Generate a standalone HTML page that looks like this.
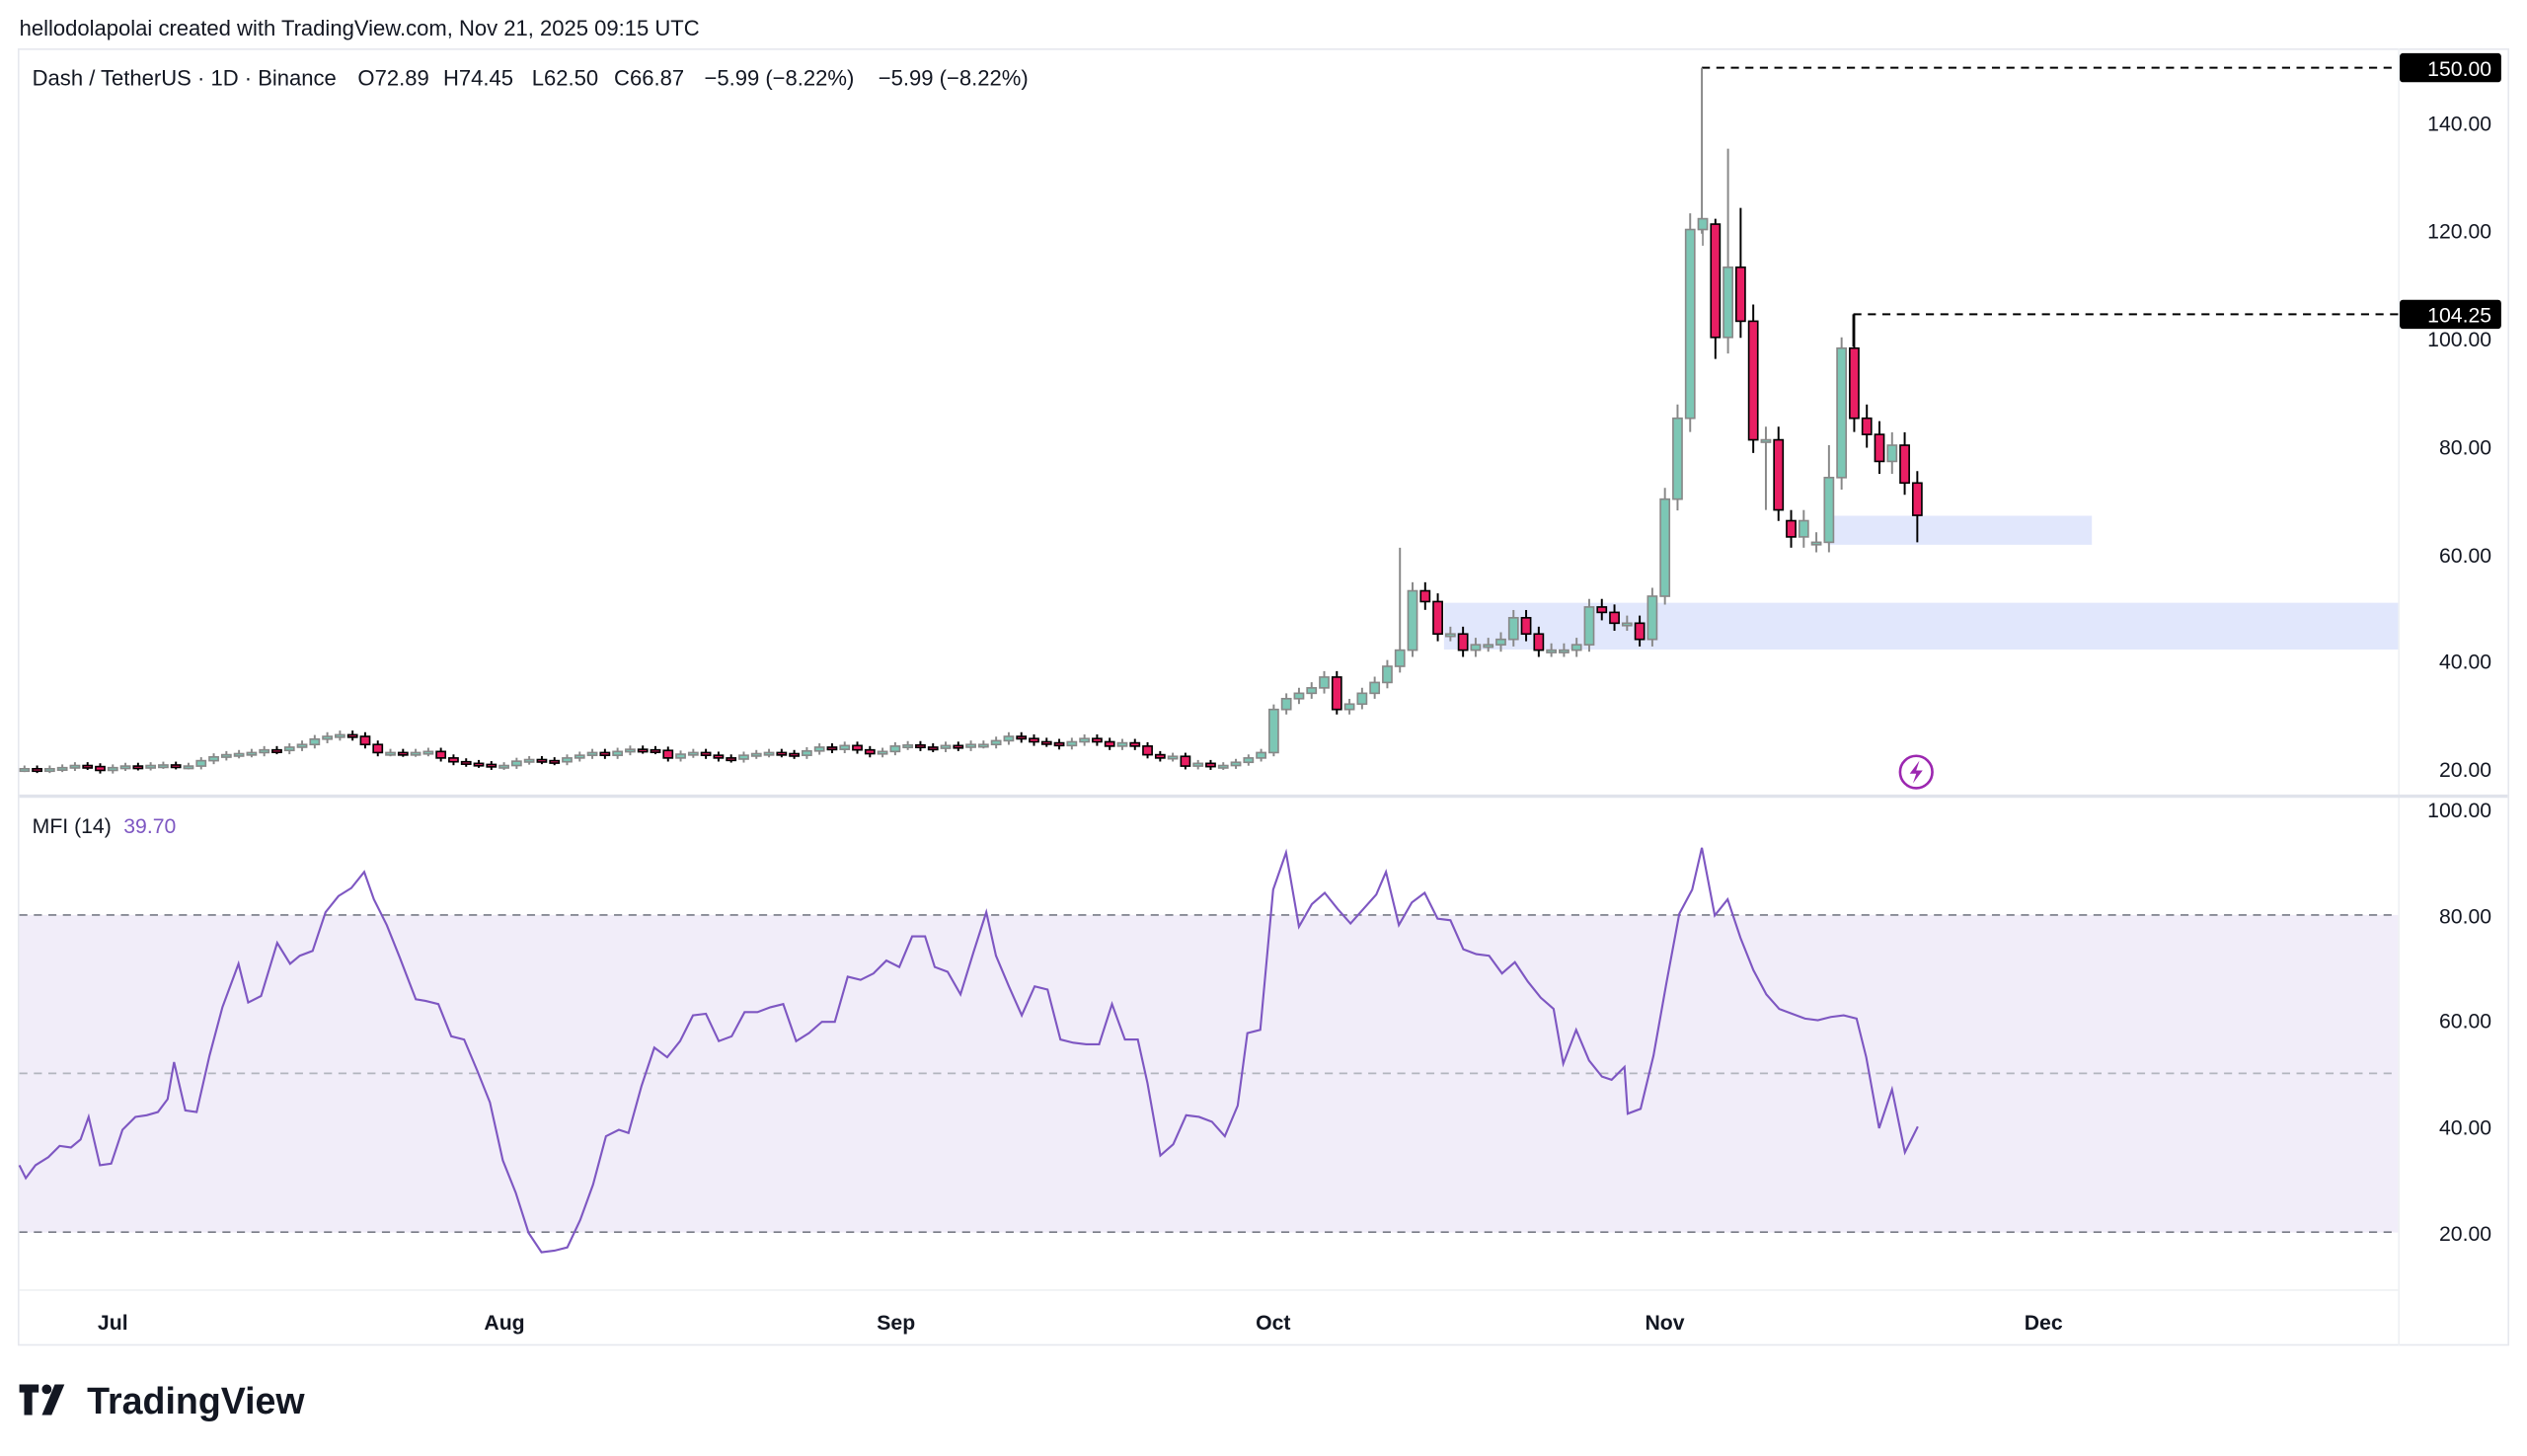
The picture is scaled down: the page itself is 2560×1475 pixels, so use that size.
<!DOCTYPE html>
<html><head><meta charset="utf-8"><style>
html,body{margin:0;padding:0;background:#fff;width:2560px;height:1475px;overflow:hidden}
svg{display:block}
text{font-family:"Liberation Sans",sans-serif}
</style></head><body>
<svg id="s" width="2560" height="1475" viewBox="0 0 1568 903.4" xmlns="http://www.w3.org/2000/svg">
<defs><clipPath id="cp"><rect x="12" y="30" width="1476" height="464"/></clipPath></defs>
<rect width="1568" height="904" fill="#fff"/>
<text x="12" y="22" font-size="13.5" fill="#131722">hellodolapolai created with TradingView.com, Nov 21, 2025 09:15 UTC</text>
<rect x="11.5" y="30.5" width="1545" height="804" fill="none" stroke="#e6e8ee" stroke-width="1"/>
<line x1="1488.5" y1="30" x2="1488.5" y2="835" stroke="#eef0f3"/>
<line x1="12" y1="494" x2="1556" y2="494" stroke="#e0e3eb" stroke-width="2"/>
<line x1="12" y1="800.5" x2="1488" y2="800.5" stroke="#eef0f3"/>
<g font-size="13.5" fill="#131722">
<text x="20" y="53">Dash / TetherUS · 1D · Binance</text>
<text x="222" y="53">O72.89</text><text x="275" y="53">H74.45</text><text x="330" y="53">L62.50</text><text x="381" y="53">C66.87</text>
<text x="437" y="53">−5.99 (−8.22%)</text><text x="545" y="53">−5.99 (−8.22%)</text>
</g>
<!-- zones -->
<rect x="896" y="374" width="592" height="29" fill="#e1e7fc"/>
<rect x="1134" y="320" width="164" height="18" fill="#e1e7fc"/>
<!-- dashed -->
<polyline points="1056,42 1488,42" fill="none" stroke="#000" stroke-width="1.2" stroke-dasharray="5,4"/>
<polyline points="1150,195 1488,195" fill="none" stroke="#000" stroke-width="1.2" stroke-dasharray="5,4"/>
<line x1="1056" y1="42" x2="1056" y2="145" stroke="#888" stroke-width="1.2"/>
<line x1="1150" y1="195" x2="1150" y2="215" stroke="#000" stroke-width="1.2"/>
<g id="candles" clip-path="url(#cp)"></g>
<!-- price axis -->
<g font-size="13" fill="#131722" text-anchor="end">
<text x="1546" y="81">140.00</text><text x="1546" y="148">120.00</text><text x="1546" y="215">100.00</text>
<text x="1546" y="282">80.00</text><text x="1546" y="349">60.00</text><text x="1546" y="415">40.00</text><text x="1546" y="482">20.00</text>
<text x="1546" y="507">100.00</text><text x="1546" y="573">80.00</text><text x="1546" y="638">60.00</text><text x="1546" y="704">40.00</text><text x="1546" y="770">20.00</text>
</g>
<rect x="1489" y="33" width="63" height="18" rx="2" fill="#000"/>
<text x="1546" y="47" font-size="13" fill="#fff" text-anchor="end">150.00</text>
<rect x="1489" y="186" width="63" height="18" rx="2" fill="#000"/>
<text x="1546" y="200" font-size="13" fill="#fff" text-anchor="end">104.25</text>
<!-- icon -->
<circle cx="1189" cy="479" r="10" fill="#fff" stroke="#9c27b0" stroke-width="1.6"/>
<path d="M1191,472 L1185,480 L1189,480 L1187,486 L1193,478 L1189,478 Z" fill="#9c27b0"/>
<!-- MFI -->
<rect x="12" y="567.75" width="1476" height="197" fill="#f1edf9"/>
<line x1="12" y1="567.75" x2="1488" y2="567.75" stroke="#787b86" stroke-dasharray="5,4"/>
<line x1="12" y1="666" x2="1488" y2="666" stroke="#b2b5be" stroke-dasharray="5,4"/>
<line x1="12" y1="764.5" x2="1488" y2="764.5" stroke="#787b86" stroke-dasharray="5,4"/>
<text x="20" y="517" font-size="13" fill="#131722">MFI (14) <tspan fill="#7e57c2" dx="4">39.70</tspan></text>
<polyline fill="none" stroke="#7e57c2" stroke-width="1.3" points="12,723 16,731 22,723 30,718 37,711 44,712 50,707 55,693 62,723 69,722 76,701 84,693 91,692 98,690 104,682 108,659 115,689 122,690 130,655 138,625 148,598 154,622 162,618 172,585 180,598 186,593 194,590 202,566 210,556 218,551 226,541 232,558 240,574 248,594 258,620 264,621 272,623 280,643 288,645 296,664 304,684 312,720 320,740 328,765 336,777 344,776 352,774 360,757 368,735 376,705 384,701 390,703 398,674 406,650 414,656 422,646 430,630 438,629 446,646 454,643 462,628 470,628 478,625 486,623 494,646 502,641 510,634 518,634 526,606 534,608 542,604 550,596 558,600 566,581 574,581 580,600 588,603 596,617 604,591 612,566 618,593 626,612 634,630 642,612 650,614 658,645 666,647 674,648 682,648 690,623 698,645 706,645 712,672 720,717 728,710 736,692 744,693 752,696 760,705 768,686 774,641 782,639 790,552 798,529 806,575 814,561 822,554 830,564 838,573 846,564 854,555 860,541 868,574 876,560 884,554 892,570 900,571 908,589 916,592 924,593 932,604 940,597 948,609 956,619 964,626 970,660 978,639 986,658 994,668 1000,670 1008,662 1010,691 1018,688 1026,655 1034,610 1042,567 1050,552 1056,526 1064,568 1072,558 1080,582 1088,602 1096,617 1104,626 1112,629 1120,632 1128,633 1136,631 1144,630 1152,632 1158,656 1166,700 1174,676 1182,715 1190,699"/>
<!-- time axis -->
<g font-size="13" fill="#131722" text-anchor="middle" font-weight="bold">
<text x="70" y="825">Jul</text><text x="313" y="825">Aug</text><text x="556" y="825">Sep</text>
<text x="790" y="825">Oct</text><text x="1033" y="825">Nov</text><text x="1268" y="825">Dec</text>
</g>
<!-- logo -->
<g fill="#131722">
<path d="M12,859 h12 v5 h-4 v14 h-5 v-14 h-3 z"/>
<circle cx="29" cy="862" r="3"/>
<path d="M34,859 h6 l-8,19 h-6 z"/>
<text x="54" y="877" font-size="23" font-weight="bold">TradingView</text>
</g>
</svg>
<script>
var closes=[20,20,19.8,20,20.2,20.6,20.4,19.7,
20.2,20.5,20.3,20.6,20.7,20.5,20.5,21.5,22.2,22.6,22.8,23,23.5,23.4,24,24.5,25.5,26,26.3,26,24.5,23,23,22.9,23,23.2,22,21.3,21,20.8,20.4,
20.6,21.4,21.7,21.5,21.3,22,22.5,23,22.5,23.2,23.6,23.5,23.4,22,22.7,23,22.5,22,21.8,22.5,22.8,23,22.8,22.5,23.3,24,23.6,24.3,23.5,22.8,23.2,
24.2,24.4,24,23.8,24.3,24,24.5,24.5,25.2,26,25.6,25,24.8,24.3,25,25.6,25,24.2,24.8,24.2,22.6,22,22.3,20.5,21,20.4,20.6,21.2,22,23,
31,33,34,35,37,31,32,34,36,39,42,53,51,45,45,42,43,43,44,48,45,42,42,42,43,50,49,47,47,44,52,
70,85,120,122,100,113,103,81,81,68,63,66,62,74,98,85,82,77,80,73,67];
var hi={110:61,134:150,136:135,137:124,133:123,146:104.25,144:80,145:100,135:122};
var lo={151:62,139:68,141:61,142:61,135:96};
var opens={135:121,141:66,143:62,151:73};
function Y(p){return 477-(p-20)*3.346;}
var g=document.getElementById('candles'),h='';
for(var i=0;i<closes.length;i++){
 var c=closes[i],o=opens[i]!==undefined?opens[i]:(i?closes[i-1]:20.2);
 var x=70+(i-8)*7.83;
 var up=c>=o,mx=Math.max(o,c),mn=Math.min(o,c);
 var H=hi[i]!==undefined?hi[i]:mx+Math.max(0.3,mx*0.03);
 var L=lo[i]!==undefined?lo[i]:mn-Math.max(0.3,mn*0.03);
 var yt=Y(mx),yb=Y(mn);if(yb-yt<1.5){yb=yt+1.5;}
 var fill=up?'#7cc7b5':'#e91e63',st=up?'#888':'#000';
 if(i==134){h+='<line x1="'+x+'" y1="'+Y(120)+'" x2="'+x+'" y2="'+Y(117)+'" stroke="#888"/>';}
 else h+='<line x1="'+x+'" y1="'+Y(H)+'" x2="'+x+'" y2="'+Y(L)+'" stroke="'+st+'" stroke-width="1.2"/>';
 h+='<rect x="'+(x-2.8)+'" y="'+yt+'" width="5.6" height="'+(yb-yt)+'" fill="'+fill+'" stroke="'+st+'" stroke-width="1"/>';
}
g.innerHTML=h;
</script>
</body></html>
